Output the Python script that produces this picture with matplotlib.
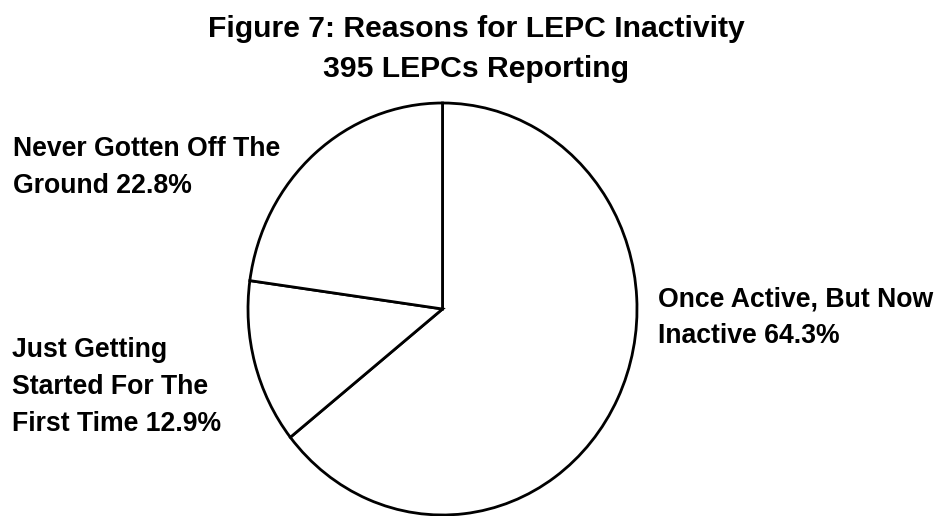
import matplotlib
matplotlib.use('Agg')
import matplotlib.pyplot as plt

# data
reasons = ['Once Active, But Now\nInactive',
           'Just Getting\nStarted For The\nFirst Time',
           'Never Gotten Off The\nGround']
shares = [64.3, 12.9, 22.8]

title = 'Figure 7: Reasons for LEPC Inactivity\n395 LEPCs Reporting'

plt.rcParams['font.family'] = ['Liberation Sans', 'DejaVu Sans']

W, H = 942, 516
fig = plt.figure(figsize=(W / 100, H / 100), dpi=100)
fig.patch.set_facecolor('white')

# pie sits in an axes stretched a little taller than wide (as in the original)
ax = fig.add_axes([248 / W, 1 - 515 / H, 389 / W, 412 / H])
wedges, _ = ax.pie(shares, startangle=90, counterclock=False,
                   colors=['white'] * len(shares),
                   wedgeprops=dict(edgecolor='black', linewidth=2))
for w in wedges:
    w.set_clip_on(False)
ax.set_aspect('auto')
ax.set_xlim(-1, 1)
ax.set_ylim(-1, 1)
ax.axis('off')

# title, two centered lines (y = baseline of last line)
fig.text(476 / W, 1 - 77 / H, title, ha='center', va='baseline',
         fontsize=21.7, fontweight='bold', linespacing=1.54)

# labels (left x, last-line baseline y in pixels)
label_pos = [(658, 343), (12, 431), (13, 193)]
for name, pct, (px, py) in zip(reasons, shares, label_pos):
    fig.text(px / W, 1 - py / H, f'{name} {pct:.1f}%', ha='left',
             va='baseline', fontsize=19.2, fontweight='bold',
             linespacing=1.54)

fig.savefig('out.png', dpi=100, facecolor='white')
